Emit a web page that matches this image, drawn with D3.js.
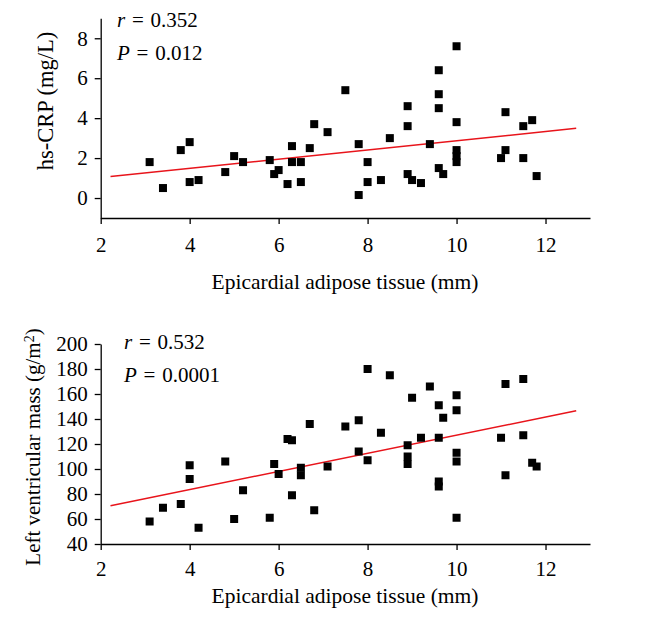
<!DOCTYPE html>
<html><head><meta charset="utf-8">
<script src="https://cdn.jsdelivr.net/npm/d3@7"></script>
<style>body{margin:0;background:#fff}svg{display:block}text{font-family:"Liberation Serif","DejaVu Serif",serif;fill:#000}</style>
</head><body><svg id="c" width="660" height="624"></svg>
<script>
// Data
const eatTop = [3.1,3.4,3.8,4.0,4.0,4.2,4.8,5.0,5.2,5.8,5.9,6.0,6.2,6.3,6.3,6.5,6.5,6.7,6.8,7.1,7.5,7.8,7.8,8.0,8.0,8.3,8.5,8.9,8.9,8.9,9.0,9.2,9.4,9.6,9.6,9.6,9.6,9.7,10.0,10.0,10.0,10.0,10.0,11.0,11.1,11.1,11.5,11.5,11.7,11.8];
const crp    = [1.8,0.5,2.4,2.8,0.8,0.9,1.3,2.1,1.8,1.9,1.2,1.4,0.7,2.6,1.8,1.8,0.8,2.5,3.7,3.3,5.4,2.7,0.15,1.8,0.8,0.9,3.0,4.6,3.6,1.2,0.9,0.75,2.7,6.4,5.2,4.5,1.5,1.2,7.6,3.8,2.4,2.1,1.8,2.0,4.3,2.4,3.6,2.0,3.9,1.1];
const eatBot = [3.1,3.4,3.8,4.0,4.0,4.2,4.8,5.0,5.2,5.8,5.9,6.0,6.2,6.3,6.3,6.5,6.5,6.7,6.8,7.1,7.5,7.8,7.8,8.0,8.0,8.3,8.5,8.9,8.9,8.9,9.0,9.2,9.4,9.6,9.6,9.6,9.6,9.7,10.0,10.0,10.0,10.0,10.0,11.0,11.1,11.1,11.5,11.5,11.7,11.8];
const lvm    = [58,69,72,103,92,53,106,60,83,61,104,96,124,123,79,101,95,136,67,102,134,139,114,180,107,129,175,119,110,104,157,125,166,151,125,90,86,141,159,147,113,106,61,125,168,95,172,127,105,102];
const fitTop = {x:[2.22,12.69], y:[1.08,3.49]};
const fitBot = {x:[2.22,12.69], y:[70.6,146.6]};
const xTicks = [2,4,6,8,10,12];
const yTicksTop = [0,2,4,6,8];
const yTicksBot = [40,60,80,100,120,140,160,180,200];
const xTitle = "Epicardial adipose tissue (mm)";

const svg = d3.select("#c");
const x = d3.scaleLinear().domain([2,13]).range([100.7,590]);

function panel(opt){
  const g = svg.append("g");
  const y = d3.scaleLinear().domain(opt.ydom).range(opt.yrange);
  const y0 = opt.yrange[0];
  // x axis
  const xa = g.append("g").attr("transform",`translate(0,${y0})`);
  xa.call(d3.axisBottom(x).tickValues(d3.range(3,14,2)).tickSize(4).tickFormat("").tickSizeOuter(0));
  xa.call(d3.axisBottom(x).tickValues(xTicks).tickSize(6).tickPadding(opt.xpad).tickSizeOuter(0));
  xa.selectAll("text").style("font-size","21px");
  // y axis
  const ya = g.append("g").attr("transform",`translate(${x(2)},0)`);
  ya.call(d3.axisLeft(y).tickValues(opt.yminor).tickSize(4).tickFormat("").tickSizeOuter(0));
  ya.call(d3.axisLeft(y).tickValues(opt.yticks).tickSize(6).tickPadding(7).tickSizeOuter(0));
  ya.selectAll("text").style("font-size","21px");
  g.selectAll(".domain,.tick line").attr("stroke","#000").attr("stroke-width",1.3);
  // fit line
  g.append("line").attr("x1",x(opt.fit.x[0])).attr("x2",x(opt.fit.x[1]))
    .attr("y1",y(opt.fit.y[0])).attr("y2",y(opt.fit.y[1]))
    .attr("stroke","#e8141b").attr("stroke-width",1.5);
  // points
  const s = 8;
  g.selectAll("rect.pt").data(opt.xs.map((v,i)=>[v,opt.ys[i]])).join("rect")
    .attr("x",d=>x(d[0])-s/2).attr("y",d=>y(d[1])-s/2).attr("width",s).attr("height",s).attr("fill","#000");
  // titles
  g.append("text").attr("x",345).attr("y",opt.xtitleY).attr("text-anchor","middle").style("font-size","21.5px").text(xTitle);
  const yt = g.append("text").attr("transform",`translate(${opt.ytitleX},${opt.ytitleY}) rotate(-90)`).attr("text-anchor","middle").style("font-size",opt.ytitleSize);
  opt.ytitle(yt);
  // annotations
  const a1 = g.append("text").attr("x",opt.annX).attr("y",opt.annY[0]).style("font-size","21px");
  a1.append("tspan").style("font-style","italic").text("r");
  a1.append("tspan").attr("dx",1.5).text(" =");
  a1.append("tspan").attr("dx",1.5).text(" " + opt.r);
  const a2 = g.append("text").attr("x",opt.annX).attr("y",opt.annY[1]).style("font-size","21px");
  a2.append("tspan").style("font-style","italic").text("P");
  a2.append("tspan").attr("dx",1.5).text(" =");
  a2.append("tspan").attr("dx",1.5).text(" " + opt.p);
}

panel({ydom:[-1,9], yrange:[218,18.3], yticks:yTicksTop, yminor:[-1,1,3,5,7,9],
  xs:eatTop, ys:crp, fit:fitTop, xpad:13, xtitleY:289,
  ytitleX:53, ytitleY:101, ytitleSize:"22.5px", ytitle:t=>t.text("hs-CRP (mg/L)"),
  annX:117, annY:[27,60], r:"0.352", p:"0.012"});

panel({ydom:[40,200], yrange:[544,344], yticks:yTicksBot, yminor:d3.range(50,200,20),
  xs:eatBot, ys:lvm, fit:fitBot, xpad:11, xtitleY:603,
  ytitleX:40, ytitleY:447, ytitleSize:"21px", ytitle:t=>{t.append("tspan").text("Left ventricular mass (g/m");
     t.append("tspan").attr("dy","-0.45em").style("font-size","14px").text("2");
     t.append("tspan").attr("dy","0.3em").text(")");},
  annX:124, annY:[349,382], r:"0.532", p:"0.0001"});
</script></body></html>
